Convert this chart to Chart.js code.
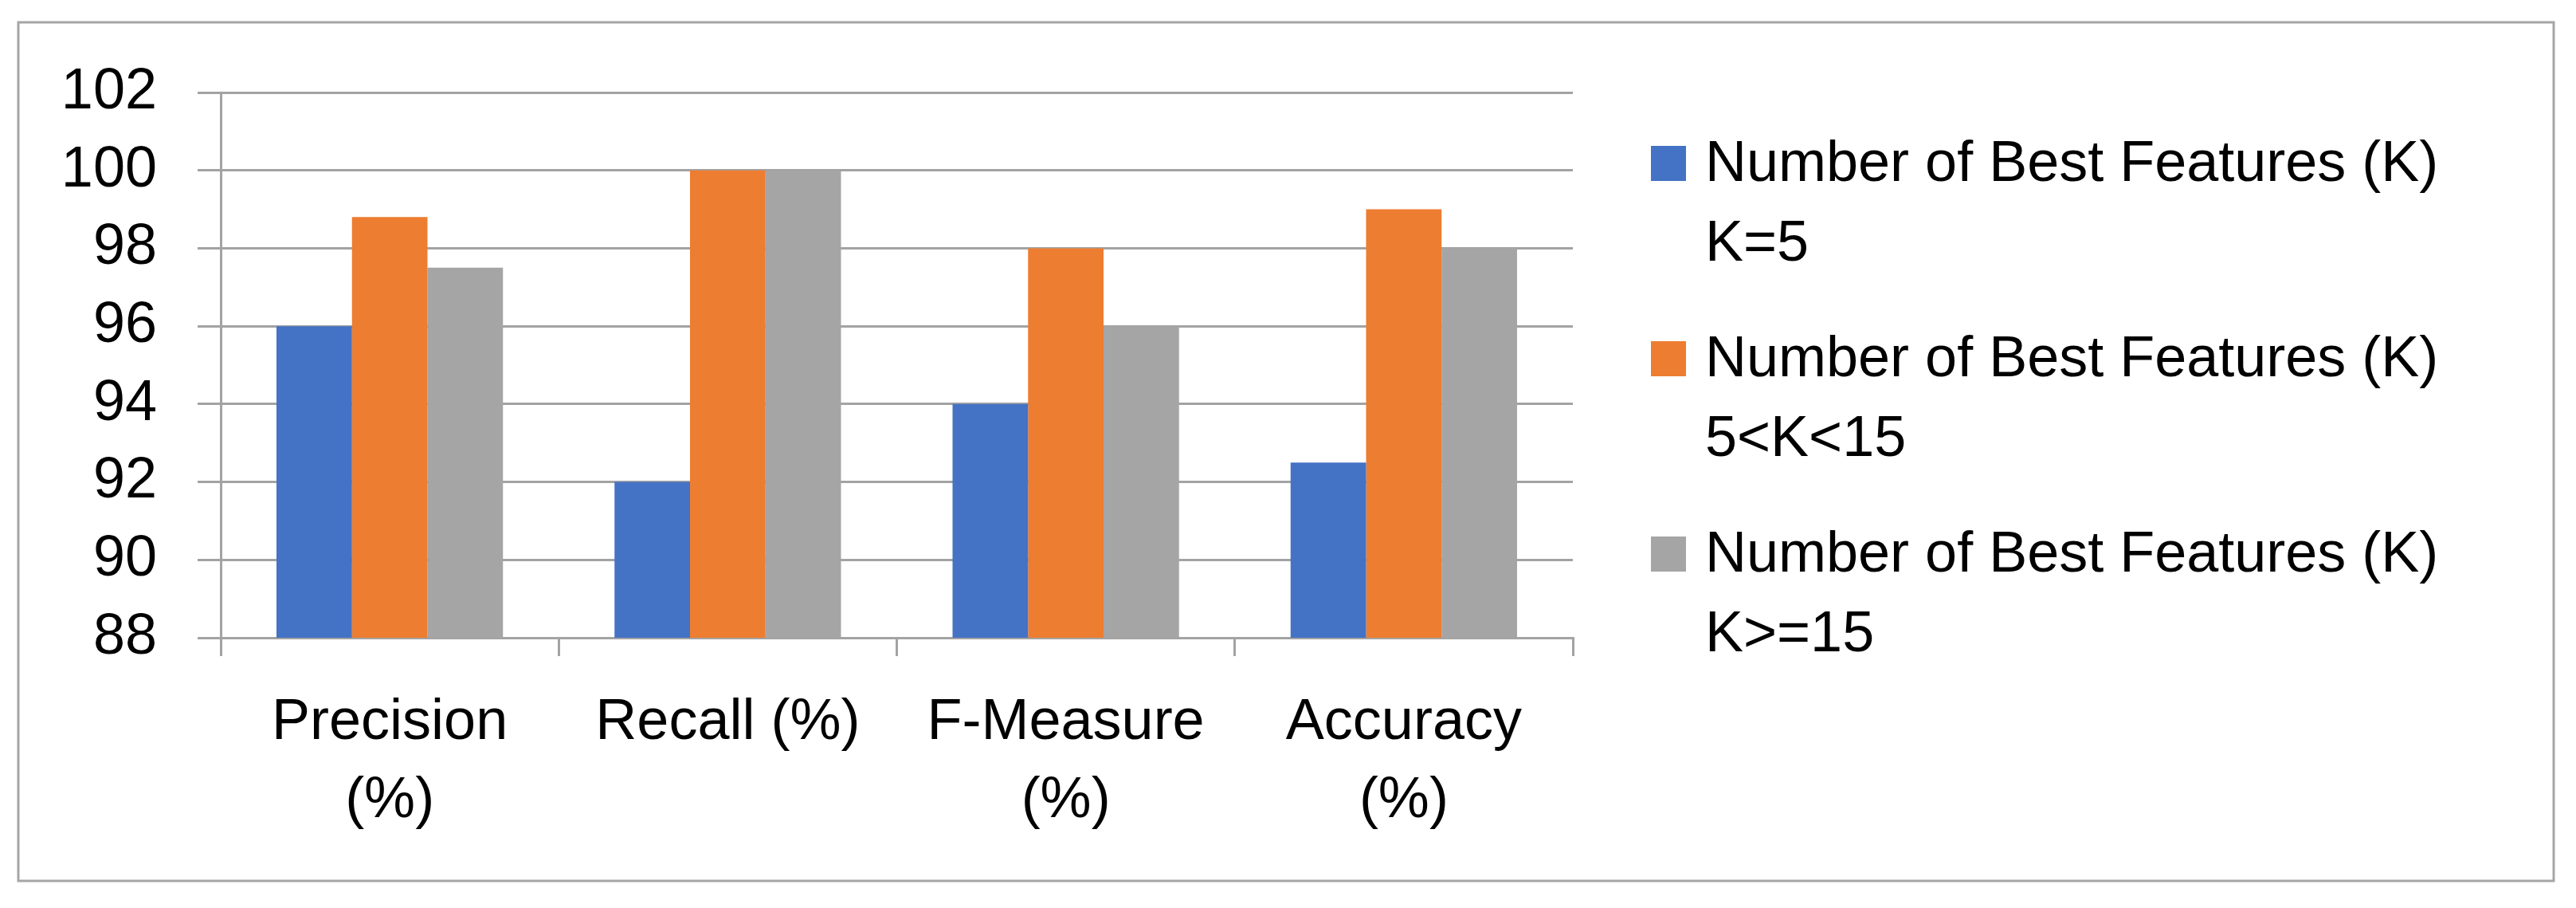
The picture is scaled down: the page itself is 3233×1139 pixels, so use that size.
<!DOCTYPE html>
<html>
<head>
<meta charset="utf-8">
<script src="https://cdn.jsdelivr.net/npm/chart.js@4/dist/chart.umd.min.js"></script>
<style>
  html, body { margin: 0; padding: 0; background: #fff; }
  #wrap { width: 3233px; height: 1139px; position: relative; }
</style>
</head>
<body>
<div id="wrap"><canvas id="grafico"></canvas></div>
<script>
const categorias = [['Precision', '(%)'], 'Recall (%)', ['F-Measure', '(%)'], ['Accuracy', '(%)']];
const nomesSeries = [
  ['Number of Best Features (K)', 'K=5'],
  ['Number of Best Features (K)', '5<K<15'],
  ['Number of Best Features (K)', 'K>=15']
];
const valoresK5 = [96, 92, 94, 92.5];
const valoresK5a15 = [98.8, 100, 98, 99];
const valoresK15 = [97.5, 100, 96, 98];
const cores = ['#4472C4', '#ED7D31', '#A5A5A5'];
const ticksY = [88, 90, 92, 94, 96, 98, 100, 102];

const fonte = '"Liberation Sans", Arial, sans-serif';
const corGrade = '#a3a3a3';

const moldura = {
  id: 'moldura',
  beforeDraw(chart) {
    const ctx = chart.ctx;
    ctx.save();
    ctx.fillStyle = '#fff';
    ctx.fillRect(0, 0, chart.width, chart.height);
    ctx.strokeStyle = '#a6a6a6';
    ctx.lineWidth = 3;
    ctx.strokeRect(23, 28, 3182, 1077);
    ctx.restore();
  }
};

// legenda com duas linhas por serie
const legendaDuasLinhas = {
  id: 'legendaDuasLinhas',
  afterDraw(chart) {
    const ctx = chart.ctx;
    const area = chart.chartArea;
    const xQuad = area.right + 98;
    const xTexto = xQuad + 68;
    ctx.save();
    ctx.font = '72px ' + fonte;
    ctx.textBaseline = 'alphabetic';
    ctx.textAlign = 'left';
    chart.data.datasets.forEach((ds, i) => {
      const base = area.top + 111 + i * 245;
      ctx.fillStyle = ds.backgroundColor;
      ctx.fillRect(xQuad, base - 44, 44, 44);
      ctx.fillStyle = '#000';
      nomesSeries[i].forEach((linha, j) => {
        ctx.fillText(linha, xTexto, base + j * 100);
      });
    });
    ctx.restore();
  }
};

const ctx = document.getElementById('grafico').getContext('2d');
const grafico = new Chart(ctx, {
  type: 'bar',
  data: {
    labels: categorias,
    datasets: [
      { label: nomesSeries[0].join(' '), data: valoresK5, backgroundColor: cores[0] },
      { label: nomesSeries[1].join(' '), data: valoresK5a15, backgroundColor: cores[1] },
      { label: nomesSeries[2].join(' '), data: valoresK15, backgroundColor: cores[2] }
    ]
  },
  options: {
    responsive: true,
    maintainAspectRatio: false,
    animation: false,
    devicePixelRatio: 1,
    categoryPercentage: 0.67,
    barPercentage: 1.0,
    layout: { padding: { left: 0, top: 116, right: 1259, bottom: 0 } },
    plugins: {
      legend: { display: false },
      tooltip: { enabled: false }
    },
    scales: {
      x: {
        afterFit(scale) { scale.height = 339; },
        grid: {
          display: true,
          drawOnChartArea: false,
          drawTicks: true,
          tickLength: 23,
          offset: true,
          color: corGrade,
          lineWidth: 3
        },
        border: { display: true, color: corGrade, width: 3 },
        ticks: {
          color: '#000',
          padding: 35,
          maxRotation: 0,
          autoSkip: false,
          font: { family: fonte, size: 72, lineHeight: 1.36 }
        }
      },
      y: {
        min: 88,
        max: 102,
        afterFit(scale) { scale.width = 277; },
        afterBuildTicks(scale) { scale.ticks = ticksY.map(v => ({ value: v })); },
        grid: {
          color: corGrade,
          lineWidth: 3,
          drawTicks: true,
          tickLength: 29
        },
        border: { display: true, color: corGrade, width: 3 },
        ticks: {
          color: '#000',
          padding: 51,
          font: { family: fonte, size: 72 }
        }
      }
    }
  },
  plugins: [moldura, legendaDuasLinhas]
});
</script>
</body>
</html>
